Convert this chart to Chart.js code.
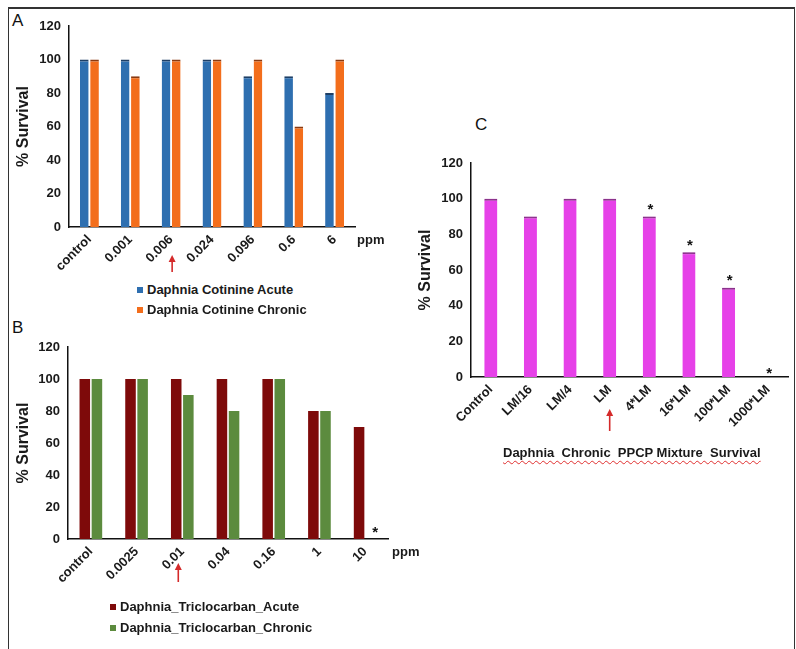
<!DOCTYPE html>
<html><head><meta charset="utf-8">
<script src="https://cdn.jsdelivr.net/npm/chart.js@4.4.0/dist/chart.umd.min.js"></script>
<style>
html,body{margin:0;padding:0;background:#fff;width:796px;height:649px;overflow:hidden;font-family:"Liberation Sans",Arial,sans-serif;}
.abs{position:absolute;}
#frame{left:8px;top:7px;width:787px;height:700px;border:1.5px solid #333;border-top:2px solid #333;border-bottom:none;box-sizing:border-box}
.letter{font-size:17px;line-height:17px;color:#111;}
.leg{font-weight:bold;font-size:13px;line-height:16px;color:#1a1a1a;white-space:nowrap}
.leg i{display:inline-block;width:6px;height:6px;margin-right:4px;vertical-align:1px}
canvas{position:absolute}
#cap{font-weight:bold;font-size:13px;line-height:16px;color:#1a1a1a;white-space:pre;text-decoration:underline wavy #e03030;text-decoration-thickness:1px;text-underline-offset:3px}
</style></head>
<body>
<div id="frame" class="abs"></div>
<div class="letter abs" style="left:12px;top:12px">A</div>
<div class="letter abs" style="left:12px;top:319px">B</div>
<div class="letter abs" style="left:475px;top:116px">C</div>
<canvas id="cA" width="400" height="280" style="left:0;top:0"></canvas>
<canvas id="cB" width="430" height="300" style="left:0;top:300px"></canvas>
<canvas id="cC" width="396" height="310" style="left:400px;top:130px"></canvas>
<div id="legA"></div><div id="legB"></div>
<div id="cap" class="abs" style="left:503px;top:445px"></div>
<script>
// ---------- data ----------
const catA = ['control','0.001','0.006','0.024','0.096','0.6','6'];
const acuteA = [100,100,100,100,90,90,80];
const chronicA = [100,90,100,100,100,60,100];
const labelsA = ['Daphnia Cotinine Acute','Daphnia Cotinine Chronic'];

const catB = ['control','0.0025','0.01','0.04','0.16','1','10'];
const acuteB = [100,100,100,100,100,80,70];
const chronicB = [100,100,90,80,100,80,0];
const labelsB = ['Daphnia_Triclocarban_Acute','Daphnia_Triclocarban_Chronic'];

const catC = ['Control','LM/16','LM/4','LM','4*LM','16*LM','100*LM','1000*LM'];
const mixC = [100,90,100,100,90,70,50,0];
const captionC = 'Daphnia  Chronic  PPCP Mixture  Survival';

const yTicks = [0,20,40,60,80,100,120];
const starsB = ['10'];           // chronic series
const starsC = ['4*LM','16*LM','100*LM','1000*LM'];
const arrowA = '0.006', arrowB = '0.01', arrowC = 'LM';
const unitLabel = 'ppm';
const yTitle = '% Survival';

// ---------- styles ----------
const FONT = '"Liberation Sans", Arial, sans-serif';
Chart.defaults.font.family = FONT;
Chart.defaults.color = '#1a1a1a';
const col = {blue:'#2E6FB0', orange:'#F36E1C', red:'#7E0A0A', green:'#5C8B3E', mag:'#E641E8'};

const marks = {
  id:'marks',
  beforeDatasetsDraw(chart, args, o){
    if(o.glow){ chart.ctx.save(); chart.ctx.shadowColor='rgba(240,110,240,0.55)'; chart.ctx.shadowBlur=5; }
  },
  afterDatasetsDraw(chart, args, o){
    const ctx = chart.ctx; const a = chart.chartArea; const xs = chart.scales.x;
    if(o.glow) ctx.restore();
    ctx.save();
    if(o.arrow != null){
      const i = chart.data.labels.indexOf(o.arrow);
      const px = xs.getPixelForValue(i) + (o.arrowDx||0);
      const y0 = a.bottom + o.arrowTop, y1 = a.bottom + o.arrowBottom;
      ctx.strokeStyle = ctx.fillStyle = '#D42A2A'; ctx.lineWidth = 1.6;
      ctx.beginPath(); ctx.moveTo(px, y1); ctx.lineTo(px, y0 + 5); ctx.stroke();
      ctx.beginPath(); ctx.moveTo(px, y0); ctx.lineTo(px - 3.5, y0 + 7); ctx.lineTo(px + 3.5, y0 + 7); ctx.closePath(); ctx.fill();
    }
    if(o.stars){
      ctx.fillStyle = '#111'; ctx.font = 'bold 15px ' + FONT; ctx.textAlign = 'center'; ctx.textBaseline = 'alphabetic';
      o.stars.labels.forEach(lab => {
        const i = chart.data.labels.indexOf(lab);
        const el = chart.getDatasetMeta(o.stars.ds).data[i];
        const v = chart.data.datasets[o.stars.ds].data[i];
        const d = v === 0 ? o.stars.dZero : o.stars.d;
        ctx.fillText('*', el.x + (o.stars.dx||0), el.y - d + 8.4);
      });
    }
    if(o.unit){
      ctx.fillStyle = '#1a1a1a'; ctx.font = 'bold 13px ' + FONT; ctx.textAlign = 'left'; ctx.textBaseline = 'middle';
      ctx.fillText(o.unit, a.right + o.unitDx, a.bottom + o.unitDy);
    }
    ctx.restore();
  }
};

function yAxis(width, titlePad){
  return {
    min:0, max:120,
    afterBuildTicks: s => { s.ticks = yTicks.map(v => ({value:v})); },
    afterFit: s => { s.width = width; },
    grid:{display:false, drawTicks:false},
    border:{display:true, color:'#111', width:1.5},
    ticks:{font:{size:13, weight:'bold'}, color:'#1a1a1a', padding:8},
    title:{display:true, text:yTitle, font:{size:16, weight:'bold'}, color:'#1a1a1a', padding:{top:titlePad, bottom:0}}
  };
}
function xAxis(height){
  return {
    afterFit: s => { s.height = height; },
    grid:{display:false, drawTicks:false},
    border:{display:true, color:'#111', width:1.5},
    ticks:{font:{size:13, weight:'bold'}, color:'#1a1a1a', minRotation:45, maxRotation:45, autoSkip:false, padding:5}
  };
}
function baseOpts(pad, yw, titlePad, xh, plug){
  return {
    responsive:false, animation:false, devicePixelRatio:1,
    layout:{padding:pad},
    plugins:{legend:{display:false}, tooltip:{enabled:false}, marks:plug},
    scales:{x:xAxis(xh), y:yAxis(yw, titlePad)}
  };
}
const capTop = (c) => ({top:2, left:0, right:0, bottom:0});

// ---------- Panel A ----------
new Chart(document.getElementById('cA'), {
  type:'bar',
  data:{labels:catA, datasets:[
    {label:labelsA[0], data:acuteA, backgroundColor:col.blue, borderColor:'#1E3F66', borderWidth:capTop(), borderSkipped:false, categoryPercentage:0.5, barPercentage:0.85},
    {label:labelsA[1], data:chronicA, backgroundColor:col.orange, borderColor:'#8A3A10', borderWidth:capTop(), borderSkipped:false, categoryPercentage:0.5, barPercentage:0.85}
  ]},
  options: baseOpts({top:26, left:0, right:45, bottom:0}, 69, 14, 53,
    {arrow:arrowA, arrowDx:1, arrowTop:28, arrowBottom:45, unit:unitLabel, unitDx:2, unitDy:13}),
  plugins:[marks]
});

// ---------- Panel B ----------
new Chart(document.getElementById('cB'), {
  type:'bar',
  data:{labels:catB, datasets:[
    {label:labelsB[0], data:acuteB, backgroundColor:col.red, categoryPercentage:0.53, barPercentage:0.87},
    {label:labelsB[1], data:chronicB, backgroundColor:col.green, categoryPercentage:0.53, barPercentage:0.87}
  ]},
  options: baseOpts({top:47, left:0, right:42, bottom:0}, 68, 14, 61,
    {arrow:arrowB, arrowDx:-4, arrowTop:24, arrowBottom:43, unit:unitLabel, unitDx:4, unitDy:13,
     stars:{ds:1, labels:starsB, d:11, dZero:10, dx:4}}),
  plugins:[marks]
});

// ---------- Panel C ----------
new Chart(document.getElementById('cC'), {
  type:'bar',
  data:{labels:catC, datasets:[
    {label:captionC, data:mixC, backgroundColor:col.mag, borderColor:'#7A2A7A', borderWidth:capTop(), borderSkipped:false, categoryPercentage:0.8, barPercentage:0.41}
  ]},
  options: baseOpts({top:33, left:0, right:8, bottom:0}, 71, 16, 63,
    {arrow:arrowC, arrowTop:32, arrowBottom:54, glow:true,
     stars:{ds:0, labels:starsC, d:11, dZero:7, dx:1}}),
  plugins:[marks]
});

// ---------- HTML legends & caption ----------
function legend(id, labels, colors, left, top){
  const box = document.getElementById(id);
  labels.forEach((t, k) => {
    const d = document.createElement('div');
    d.className = 'leg abs';
    d.style.left = left + 'px'; d.style.top = (top + k * (id === 'legA' ? 20 : 21)) + 'px';
    d.innerHTML = '<i style="background:' + colors[k] + '"></i>';
    d.appendChild(document.createTextNode(t));
    box.appendChild(d);
  });
}
legend('legA', labelsA, [col.blue, col.orange], 137, 282);
legend('legB', labelsB, [col.red, col.green], 110, 599);
document.getElementById('cap').textContent = captionC;
</script>
</body></html>
